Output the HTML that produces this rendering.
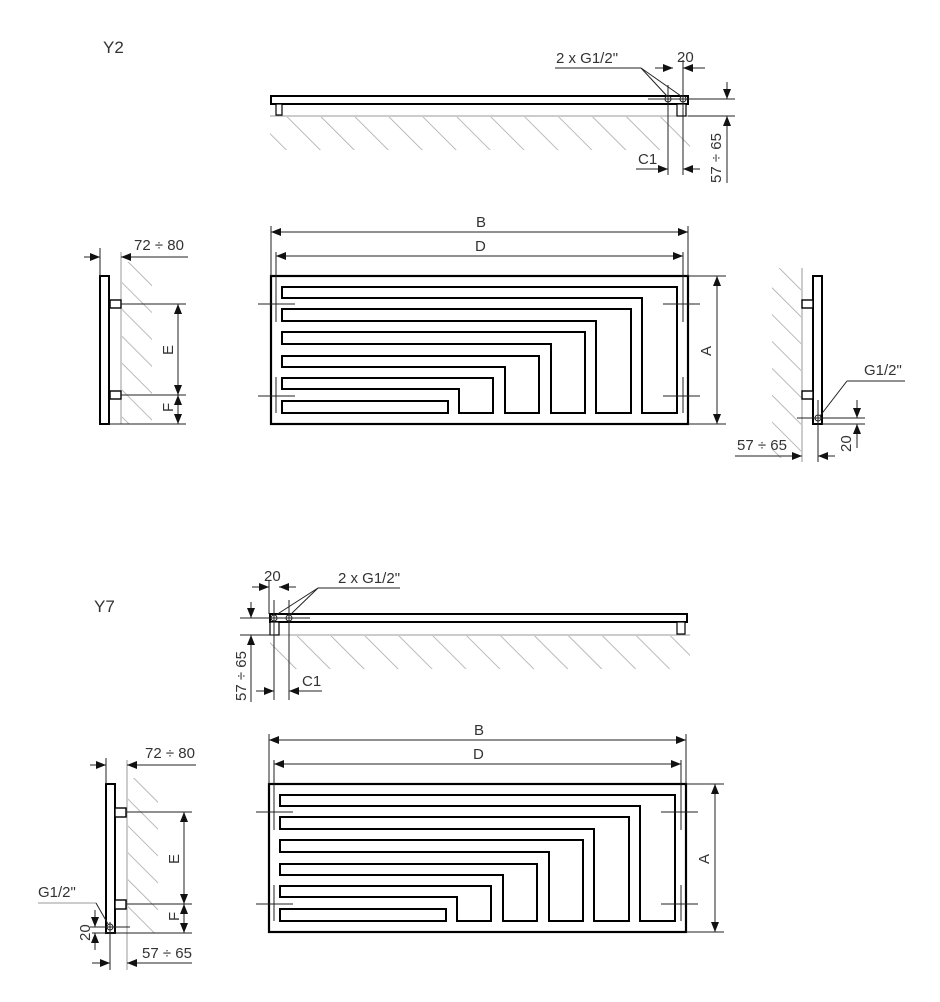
<!DOCTYPE html>
<html><head><meta charset="utf-8"><style>
html,body{margin:0;padding:0;background:#fff;}
svg{display:block;}
text{font-family:"Liberation Sans",sans-serif;font-size:15px;fill:#333;}
</style></head><body>
<svg width="940" height="1002" viewBox="0 0 940 1002" xmlns="http://www.w3.org/2000/svg">
<defs>
<marker id="a" viewBox="0 0 10 8" refX="10" refY="4" markerWidth="10" markerHeight="8" markerUnits="userSpaceOnUse" orient="auto-start-reverse"><path d="M0,0L10,4L0,8z" fill="#111"/></marker>
<pattern id="hT" width="24" height="24" patternUnits="userSpaceOnUse" patternTransform="rotate(-45)"><line x1="0" y1="0" x2="0" y2="24" stroke="#aaa" stroke-width="1.6"/></pattern>
<pattern id="hS" width="19" height="19" patternUnits="userSpaceOnUse" patternTransform="rotate(-45)"><line x1="0" y1="0" x2="0" y2="19" stroke="#aaa" stroke-width="1.6"/></pattern>
<g id="serp" fill="none" stroke="#000" stroke-width="2">
<path d="M282,287H677V413H642V298H282Z"/>
<path d="M282,309H631V413H596V321H282Z"/>
<path d="M282,332H585V413H551V344H282Z"/>
<path d="M282,356H539V413H505V367H282Z"/>
<path d="M282,378H493V413H459V389H282Z"/>
<path d="M282,401H448V413H282Z"/>
</g>
<g id="front">
<rect x="271" y="276" width="417" height="148" fill="none" stroke="#000" stroke-width="2.2"/>
<use href="#serp"/>
<g stroke="#222" stroke-width="1" fill="none">
<line x1="258" y1="304" x2="295" y2="304"/><line x1="663" y1="304" x2="700" y2="304"/>
<line x1="258" y1="396" x2="295" y2="396"/><line x1="663" y1="396" x2="700" y2="396"/>
<line x1="276" y1="252" x2="276" y2="322"/><line x1="276" y1="377" x2="276" y2="413"/>
<line x1="683" y1="252" x2="683" y2="322"/><line x1="683" y1="377" x2="683" y2="413"/>
<line x1="271" y1="226" x2="271" y2="276"/><line x1="688" y1="226" x2="688" y2="276"/>
<line x1="271" y1="232" x2="688" y2="232" marker-start="url(#a)" marker-end="url(#a)"/>
<line x1="276" y1="256" x2="683" y2="256" marker-start="url(#a)" marker-end="url(#a)"/>
<line x1="688" y1="276" x2="726" y2="276"/><line x1="688" y1="424" x2="726" y2="424"/>
<line x1="717" y1="276" x2="717" y2="424" marker-start="url(#a)" marker-end="url(#a)"/>
</g>
<text x="476" y="227">B</text>
<text x="475" y="251">D</text>
<text transform="translate(711,356) rotate(-90)">A</text>
</g>
</defs>

<!-- ===== Y2 ===== -->
<text x="103" y="53" style="font-size:17px">Y2</text>
<rect x="270" y="117" width="420" height="33" fill="url(#hT)"/>
<line x1="270" y1="116" x2="690" y2="116" stroke="#999" stroke-width="1"/>
<rect x="271" y="96" width="417" height="8" fill="none" stroke="#000" stroke-width="2"/>
<rect x="276" y="104" width="6" height="11" fill="#fff" stroke="#000" stroke-width="1.2"/>
<rect x="677" y="104" width="9" height="12" fill="#fff" stroke="#000" stroke-width="1.2"/>
<g stroke="#222" stroke-width="1" fill="none">
<circle cx="668" cy="99" r="3"/><circle cx="683" cy="99" r="3"/>
<line x1="648" y1="99" x2="735" y2="99"/><line x1="688" y1="116" x2="735" y2="116"/>
<line x1="668" y1="85" x2="668" y2="175"/><line x1="683" y1="60" x2="683" y2="175"/>
<line x1="655" y1="68" x2="673" y2="68" marker-end="url(#a)"/>
<line x1="705" y1="68" x2="683" y2="68" marker-end="url(#a)"/>
<line x1="636" y1="169" x2="668" y2="169" marker-end="url(#a)"/>
<line x1="700" y1="169" x2="683" y2="169" marker-end="url(#a)"/>
<line x1="727" y1="82" x2="727" y2="99" marker-end="url(#a)"/>
<line x1="727" y1="183" x2="727" y2="116" marker-end="url(#a)"/>
<line x1="555" y1="68" x2="641" y2="68"/><line x1="641" y1="68" x2="667" y2="96"/><line x1="641" y1="68" x2="681" y2="96"/>
</g>
<text x="556" y="63">2 x G1/2"</text>
<text x="677" y="62">20</text>
<text x="638" y="164">C1</text>
<text transform="translate(721,183) rotate(-90)">57 ÷ 65</text>
<use href="#front"/>
<rect x="122" y="262" width="30" height="162" fill="url(#hS)"/>
<line x1="121" y1="252" x2="121" y2="424" stroke="#999" stroke-width="1"/>
<rect x="100" y="276" width="9" height="148" fill="none" stroke="#000" stroke-width="2"/>
<rect x="110" y="300" width="11" height="8" fill="#fff" stroke="#000" stroke-width="1.4"/>
<rect x="110" y="391" width="11" height="8" fill="#fff" stroke="#000" stroke-width="1.4"/>
<g stroke="#222" stroke-width="1" fill="none">
<line x1="100" y1="248" x2="100" y2="276"/>
<line x1="84" y1="257" x2="100" y2="257" marker-end="url(#a)"/>
<line x1="188" y1="257" x2="121" y2="257" marker-end="url(#a)"/>
<line x1="121" y1="304" x2="186" y2="304"/><line x1="121" y1="395" x2="186" y2="395"/><line x1="109" y1="424" x2="186" y2="424"/>
<line x1="178" y1="304" x2="178" y2="395" marker-start="url(#a)" marker-end="url(#a)"/>
<line x1="178" y1="395" x2="178" y2="424" marker-start="url(#a)" marker-end="url(#a)"/>
</g>
<text x="134" y="250">72 ÷ 80</text>
<text transform="translate(173,355) rotate(-90)">E</text>
<text transform="translate(173,412) rotate(-90)">F</text>
<rect x="772" y="268" width="29" height="190" fill="url(#hS)"/>
<line x1="802" y1="268" x2="802" y2="462" stroke="#999" stroke-width="1"/>
<rect x="813" y="276" width="9" height="148" fill="none" stroke="#000" stroke-width="2"/>
<rect x="802" y="300" width="11" height="8" fill="#fff" stroke="#000" stroke-width="1.4"/>
<rect x="802" y="391" width="11" height="8" fill="#fff" stroke="#000" stroke-width="1.4"/>
<g stroke="#222" stroke-width="1" fill="none">
<circle cx="818" cy="418" r="3"/>
<line x1="797" y1="418" x2="865" y2="418"/><line x1="822" y1="424" x2="865" y2="424"/>
<line x1="818" y1="400" x2="818" y2="462"/>
<line x1="857" y1="400" x2="857" y2="418" marker-end="url(#a)"/>
<line x1="857" y1="448" x2="857" y2="424" marker-end="url(#a)"/>
<line x1="735" y1="456" x2="802" y2="456" marker-end="url(#a)"/>
<line x1="835" y1="456" x2="818" y2="456" marker-end="url(#a)"/>
<line x1="847" y1="381" x2="905" y2="381"/><line x1="847" y1="381" x2="820" y2="416"/>
</g>
<text x="864" y="375">G1/2"</text>
<text transform="translate(851,452) rotate(-90)">20</text>
<text x="737" y="450">57 ÷ 65</text>

<!-- ===== Y7 ===== -->
<text x="94" y="612" style="font-size:17px">Y7</text>
<rect x="270" y="636" width="420" height="33" fill="url(#hT)"/>
<line x1="270" y1="635" x2="690" y2="635" stroke="#999" stroke-width="1"/>
<rect x="270" y="614" width="417" height="8" fill="none" stroke="#000" stroke-width="2"/>
<rect x="270" y="622" width="9" height="13" fill="#fff" stroke="#000" stroke-width="1.2"/>
<rect x="677" y="622" width="8" height="12" fill="#fff" stroke="#000" stroke-width="1.2"/>
<g stroke="#222" stroke-width="1" fill="none">
<circle cx="274" cy="618" r="3"/><circle cx="289" cy="618" r="3"/>
<line x1="240" y1="618" x2="310" y2="618"/><line x1="240" y1="635" x2="275" y2="635"/>
<line x1="274" y1="600" x2="274" y2="700"/><line x1="289" y1="600" x2="289" y2="700"/>
<line x1="252" y1="587" x2="269" y2="587" marker-end="url(#a)"/>
<line x1="296" y1="587" x2="279" y2="587" marker-end="url(#a)"/>
<line x1="269" y1="580" x2="269" y2="614"/>
<line x1="256" y1="691" x2="274" y2="691" marker-end="url(#a)"/>
<line x1="322" y1="691" x2="289" y2="691" marker-end="url(#a)"/>
<line x1="251" y1="602" x2="251" y2="618" marker-end="url(#a)"/>
<line x1="251" y1="702" x2="251" y2="635" marker-end="url(#a)"/>
<line x1="318" y1="588" x2="400" y2="588"/><line x1="318" y1="588" x2="276" y2="615"/><line x1="318" y1="588" x2="290" y2="615"/>
</g>
<text x="264" y="581">20</text>
<text x="338" y="583">2 x G1/2"</text>
<text x="302" y="686">C1</text>
<text transform="translate(246,701) rotate(-90)">57 ÷ 65</text>
<use href="#front" transform="translate(-2,508)"/>
<rect x="128" y="778" width="30" height="155" fill="url(#hS)"/>
<line x1="127" y1="760" x2="127" y2="970" stroke="#999" stroke-width="1"/>
<rect x="106" y="784" width="9" height="149" fill="none" stroke="#000" stroke-width="2"/>
<rect x="115" y="808" width="11" height="9" fill="#fff" stroke="#000" stroke-width="1.4"/>
<rect x="115" y="900" width="11" height="9" fill="#fff" stroke="#000" stroke-width="1.4"/>
<g stroke="#222" stroke-width="1" fill="none">
<circle cx="110" cy="927" r="3"/>
<line x1="106" y1="758" x2="106" y2="784"/>
<line x1="90" y1="765" x2="106" y2="765" marker-end="url(#a)"/>
<line x1="196" y1="765" x2="127" y2="765" marker-end="url(#a)"/>
<line x1="127" y1="812" x2="192" y2="812"/><line x1="127" y1="904" x2="192" y2="904"/><line x1="92" y1="933" x2="192" y2="933"/>
<line x1="184" y1="812" x2="184" y2="904" marker-start="url(#a)" marker-end="url(#a)"/>
<line x1="184" y1="904" x2="184" y2="933" marker-start="url(#a)" marker-end="url(#a)"/>
<line x1="90" y1="927" x2="130" y2="927"/>
<line x1="95" y1="910" x2="95" y2="927" marker-end="url(#a)"/>
<line x1="95" y1="950" x2="95" y2="933" marker-end="url(#a)"/>
<line x1="110" y1="922" x2="110" y2="970"/>
<line x1="92" y1="963" x2="110" y2="963" marker-end="url(#a)"/>
<line x1="192" y1="963" x2="127" y2="963" marker-end="url(#a)"/>
<line x1="38" y1="903" x2="96" y2="903" stroke="#999"/><line x1="96" y1="903" x2="108" y2="924"/>
</g>
<text x="145" y="758">72 ÷ 80</text>
<text transform="translate(179,864) rotate(-90)">E</text>
<text transform="translate(179,921) rotate(-90)">F</text>
<text x="38" y="897">G1/2"</text>
<text transform="translate(90,941) rotate(-90)">20</text>
<text x="142" y="958">57 ÷ 65</text>
</svg>
</body></html>
